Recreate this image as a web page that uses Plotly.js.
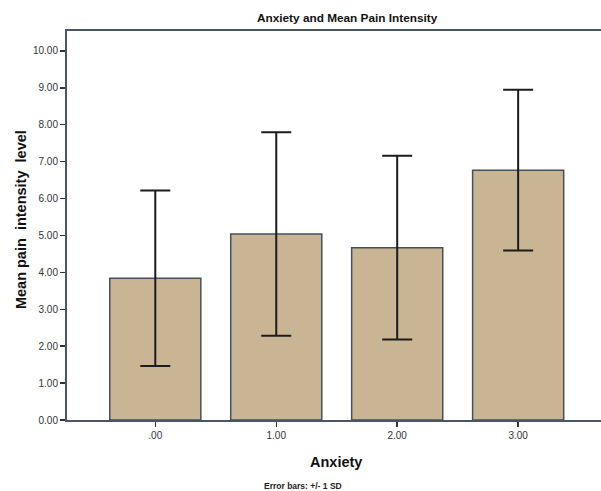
<!DOCTYPE html>
<html>
<head>
<meta charset="utf-8">
<script src="https://cdn.plot.ly/plotly-3.0.1.min.js"></script>
<style>html,body{margin:0;padding:0;background:#fff;}#chart{width:601px;height:491px;}</style>
</head>
<body>
<div id="chart"></div>
<script>
const categories = [".00", "1.00", "2.00", "3.00"];
const meanPain = [3.84, 5.04, 4.67, 6.77];
const sdPain = [2.38, 2.76, 2.49, 2.18];
const yTicks = [0, 1, 2, 3, 4, 5, 6, 7, 8, 9, 10];
const yTickLabels = ["0.00", "1.00", "2.00", "3.00", "4.00", "5.00", "6.00", "7.00", "8.00", "9.00", "10.00"];

const trace = {
  type: 'bar',
  x: categories,
  y: meanPain,
  width: 0.753,
  marker: {color: '#c9b593', line: {color: '#45505c', width: 1.5}},
  error_y: {type: 'data', array: sdPain, visible: true, color: '#1c1c1c', thickness: 2, width: 15},
  hoverinfo: 'none'
};

const fam = 'Liberation Sans, Arial, sans-serif';
const axisFont = {family: fam, size: 10, color: '#333'};

const layout = {
  width: 601, height: 491,
  margin: {l: 67, r: 0, t: 31, b: 71},
  paper_bgcolor: '#fff', plot_bgcolor: '#fff',
  showlegend: false,
  xaxis: {
    type: 'category',
    range: [-0.73, 3.685],
    showline: true, linecolor: '#4a5566', linewidth: 2, mirror: true,
    ticks: 'outside', ticklen: 5, tickwidth: 1.5, tickcolor: '#333',
    tickfont: axisFont, showgrid: false, zeroline: false, fixedrange: true
  },
  yaxis: {
    range: [0, 10.54],
    tickvals: yTicks, ticktext: yTickLabels,
    showline: true, linecolor: '#4a5566', linewidth: 2, mirror: false,
    ticks: 'outside', ticklen: 5, tickwidth: 1.5, tickcolor: '#333',
    tickfont: axisFont, showgrid: false, zeroline: false, fixedrange: true
  },
  annotations: [
    {text: '<b>Anxiety and Mean Pain Intensity</b>', xref: 'paper', yref: 'paper', x: 0.526, y: 1.0334, xanchor: 'center', yanchor: 'middle', showarrow: false,
     font: {family: fam, size: 11.8, color: '#111'}},
    {text: '<b>Mean pain  intensity  level</b>', xref: 'paper', yref: 'paper', x: -0.0861, y: 0.514, xanchor: 'center', yanchor: 'middle', textangle: -90, showarrow: false,
     font: {family: fam, size: 14.5, color: '#111'}},
    {text: '<b>Anxiety</b>', xref: 'paper', yref: 'paper', x: 0.504, y: -0.108, xanchor: 'center', yanchor: 'middle', showarrow: false,
     font: {family: fam, size: 14.5, color: '#111'}},
    {text: '<b>Error bars: +/- 1 SD</b>', xref: 'paper', yref: 'paper', x: 0.442, y: -0.170, xanchor: 'center', yanchor: 'middle', showarrow: false,
     font: {family: fam, size: 8.5, color: '#222'}}
  ]
};

Plotly.newPlot('chart', [trace], layout, {displayModeBar: false, staticPlot: true});
</script>
</body>
</html>
